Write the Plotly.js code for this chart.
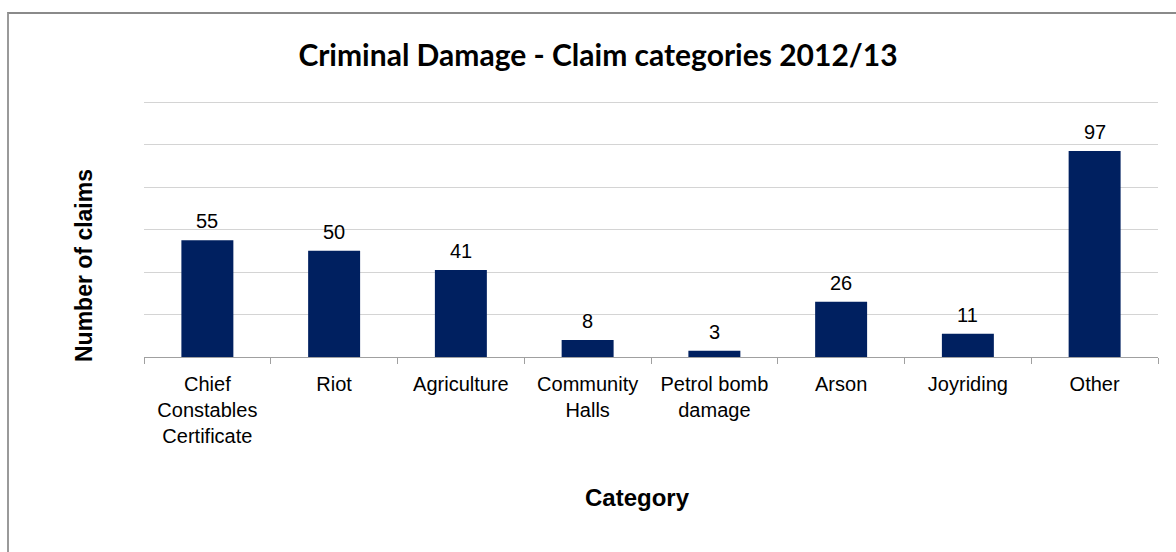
<!DOCTYPE html>
<html>
<head>
<meta charset="utf-8">
<script src="https://cdn.plot.ly/plotly-3.0.1.min.js"></script>
<style>
  html, body { margin: 0; padding: 0; background: #ffffff; }
  #wrap { position: relative; width: 1176px; height: 552px; overflow: hidden; }
  #frame { position: absolute; left: 7px; top: 12px; width: 1200px; height: 600px;
           border-top: 2px solid #8a8a8a; border-left: 2px solid #9a9a9a; }
  #chart { position: absolute; left: 0; top: 0; width: 1176px; height: 552px; }
</style>
</head>
<body>
<div id="wrap">
  <div id="frame"></div>
  <div id="chart"></div>
</div>
<script>
const categories = [
  "Chief<br>Constables<br>Certificate",
  "Riot",
  "Agriculture",
  "Community<br>Halls",
  "Petrol bomb<br>damage",
  "Arson",
  "Joyriding",
  "Other"
];
const claims = [55, 50, 41, 8, 3, 26, 11, 97];
const chartTitle = "Criminal Damage - Claim categories 2012/13";
const xTitle = "Category";
const yTitle = "Number of claims";

const trace = {
  type: "bar",
  x: categories,
  y: claims,
  marker: { color: "#002060" },
  hoverinfo: "x+y"
};

const labelAnnotations = categories.map((c, i) => ({
  x: c, y: claims[i], xref: "x", yref: "y",
  text: String(claims[i]), showarrow: false,
  xanchor: "center", yanchor: "bottom", yshift: 6,
  font: { family: "Liberation Sans, Arial, sans-serif", size: 20, color: "#000000" }
}));

const layout = {
  width: 1176, height: 552,
  paper_bgcolor: "rgba(0,0,0,0)",
  plot_bgcolor: "rgba(0,0,0,0)",
  margin: { l: 144, r: 18, t: 98, b: 195, pad: 0 },
  showlegend: false,
  bargap: 0.59,
  title: {
    text: "<b>" + chartTitle + "</b>",
    font: { family: "Lato, Calibri, sans-serif", size: 30, color: "#000000" },
    xref: "container", yref: "container",
    x: 0.5085, xanchor: "center",
    y: 1 - 55 / 552, yanchor: "middle"
  },
  xaxis: {
    type: "category",
    showgrid: false,
    showline: true, linecolor: "#a0a0a0", linewidth: 1,
    ticks: "outside", tickson: "boundaries", ticklen: 6, tickcolor: "#a0a0a0", tickwidth: 1,
    ticklabelstandoff: 9,
    tickfont: { family: "Liberation Sans, Arial, sans-serif", size: 20, color: "#000000" },
    zeroline: false
  },
  yaxis: {
    range: [0, 122], dtick: 20, tick0: 0,
    showgrid: true, gridcolor: "#d4d4d4", gridwidth: 1,
    showticklabels: false, ticks: "",
    showline: false, zeroline: false
  },
  annotations: labelAnnotations.concat([
    {
      text: "<b>" + xTitle + "</b>", showarrow: false,
      xref: "paper", yref: "paper",
      x: (637 - 144) / (1176 - 144 - 18), xanchor: "center",
      y: -(497 - 357) / (357 - 98), yanchor: "middle",
      font: { family: "Liberation Sans, Arial, sans-serif", size: 24, color: "#000000" }
    },
    {
      text: "<b>" + yTitle + "</b>", showarrow: false, textangle: -90,
      xref: "paper", yref: "paper",
      x: -(144 - 84) / (1176 - 144 - 18), xanchor: "center",
      y: (357 - 266) / (357 - 98), yanchor: "middle",
      font: { family: "Liberation Sans, Arial, sans-serif", size: 23, color: "#000000" }
    }
  ])
};

Plotly.newPlot("chart", [trace], layout, { displayModeBar: false, staticPlot: true });
</script>
</body>
</html>
